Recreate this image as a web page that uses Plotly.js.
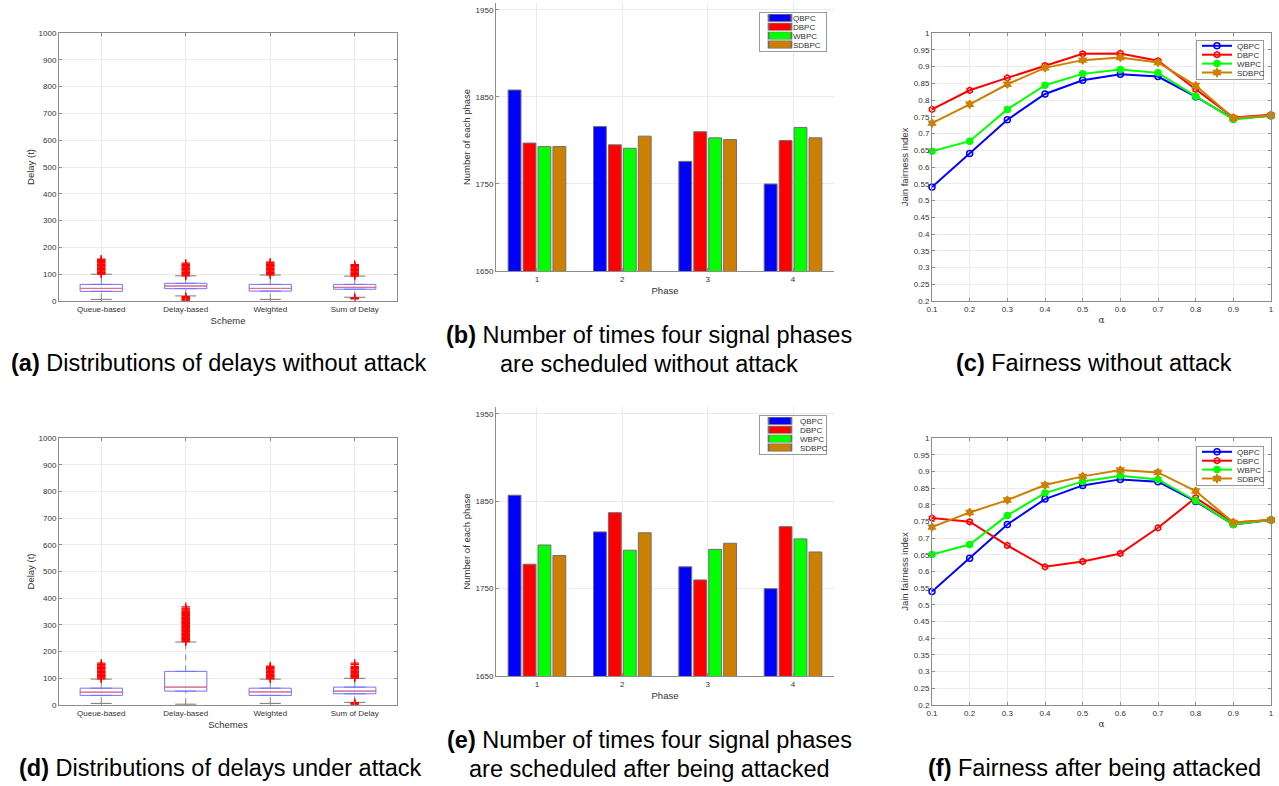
<!DOCTYPE html>
<html><head><meta charset="utf-8">
<script src="https://cdn.plot.ly/plotly-3.0.1.min.js"></script>
<style>html,body{margin:0;padding:0;background:#fff;} #chart{width:1279px;height:786px;}</style>
</head><body><div id="chart"></div>
<script>
const W = 1279, H = 786;
// ---------------- data ----------------
const schemes = ['Queue-based', 'Delay-based', 'Weighted', 'Sum of Delay'];
const schemePos = [1, 2, 3, 4];
// (a) delays without attack
const aQ1 = [36, 46, 37, 44];
const aMed = [47, 56, 47, 51];
const aQ3 = [62, 66, 62, 62];
const aLoWhisker = [6, 19, 6, 14];
const aHiWhisker = [100, 94, 97, 93];
const aOutHi = [
  [100, 103, 106, 109, 112, 115, 118, 121, 124, 127, 130, 133, 136, 139, 142, 145, 148, 151, 154, 156],
  [94, 97, 100, 103, 106, 109, 112, 115, 118, 121, 124, 127, 130, 133, 137, 141],
  [97, 100, 103, 106, 109, 112, 115, 118, 121, 124, 127, 130, 133, 136, 139, 142, 145],
  [93, 96, 99, 102, 105, 108, 111, 114, 117, 120, 123, 126, 129, 132, 136]
];
const aOutLo = [[], [1, 4, 7, 10, 13, 16], [], [8, 10, 12]];
// (d) delays under attack
const dQ1 = [36, 52, 36, 42];
const dMed = [48, 67, 49, 52];
const dQ3 = [63, 126, 63, 67];
const dLoWhisker = [6, 3, 6, 10];
const dHiWhisker = [97, 236, 97, 100];
const dOutHi = [
  [98, 101, 104, 107, 110, 113, 116, 119, 122, 125, 128, 131, 134, 137, 140, 143, 146, 149, 152, 157],
  [237, 240, 243, 246, 249, 252, 255, 258, 261, 264, 267, 270, 273, 276, 279, 282, 285, 288, 291, 294, 297, 300, 303, 306, 309, 312, 315, 318, 321, 324, 327, 330, 333, 336, 339, 342, 345, 348, 351, 355, 359, 363, 368],
  [98, 101, 104, 107, 110, 113, 116, 119, 122, 125, 128, 131, 134, 137, 140, 143, 146],
  [101, 104, 107, 110, 113, 116, 119, 122, 125, 128, 131, 134, 137, 140, 144, 151, 157]
];
const dOutLo = [[], [], [], [0, 3, 6, 9]];

// (b)/(e) number of times each phase is scheduled
const phases = [1, 2, 3, 4];
const seriesNames = ['QBPC', 'DBPC', 'WBPC', 'SDBPC'];
const seriesColors = ['#0000ff', '#ff0000', '#00ff00', '#cc7f00'];
const bQBPC = [1858, 1816, 1776, 1750];
const bDBPC = [1797, 1795, 1810, 1800];
const bWBPC = [1793, 1791, 1803, 1815];
const bSDBPC = [1793, 1805, 1801, 1803];
const eQBPC = [1857, 1815, 1775, 1750];
const eDBPC = [1778, 1837, 1760, 1821];
const eWBPC = [1800, 1794, 1795, 1807];
const eSDBPC = [1788, 1814, 1802, 1792];

// (c)/(f) Jain fairness index vs alpha
const alpha = [0.1, 0.2, 0.3, 0.4, 0.5, 0.6, 0.7, 0.8, 0.9, 1.0];
const cQBPC = [0.540, 0.640, 0.741, 0.818, 0.859, 0.877, 0.870, 0.810, 0.744, 0.753];
const cDBPC = [0.772, 0.829, 0.866, 0.903, 0.938, 0.939, 0.917, 0.832, 0.748, 0.756];
const cWBPC = [0.647, 0.677, 0.772, 0.844, 0.878, 0.891, 0.881, 0.811, 0.742, 0.753];
const cSDBPC = [0.731, 0.787, 0.847, 0.896, 0.919, 0.927, 0.912, 0.843, 0.746, 0.754];
const fQBPC = [0.540, 0.640, 0.741, 0.817, 0.858, 0.876, 0.869, 0.810, 0.741, 0.754];
const fDBPC = [0.760, 0.749, 0.678, 0.614, 0.630, 0.654, 0.731, 0.821, 0.747, 0.754];
const fWBPC = [0.651, 0.681, 0.768, 0.835, 0.870, 0.887, 0.876, 0.812, 0.741, 0.754];
const fSDBPC = [0.733, 0.777, 0.814, 0.859, 0.885, 0.904, 0.897, 0.841, 0.747, 0.754];

const delayTicks = [0, 100, 200, 300, 400, 500, 600, 700, 800, 900, 1000];
const phaseTicks = [1650, 1750, 1850, 1950];
const fairTickVals = [0.2, 0.25, 0.3, 0.35, 0.4, 0.45, 0.5, 0.55, 0.6, 0.65, 0.7, 0.75, 0.8, 0.85, 0.9, 0.95, 1];
const fairTickText = ['0.2', '0.25', '0.3', '0.35', '0.4', '0.45', '0.5', '0.55', '0.6', '0.65', '0.7', '0.75', '0.8', '0.85', '0.9', '0.95', '1'];
const alphaTickText = ['0.1', '0.2', '0.3', '0.4', '0.5', '0.6', '0.7', '0.8', '0.9', '1'];

const captions = [
  {lines: ['<b>(a)</b> Distributions of delays without attack'], cx: 219, cy: [363]},
  {lines: ['<b>(b)</b> Number of times four signal phases', 'are scheduled without attack'], cx: 649, cy: [335, 364]},
  {lines: ['<b>(c)</b> Fairness without attack'], cx: 1094, cy: [363]},
  {lines: ['<b>(d)</b> Distributions of delays under attack'], cx: 220, cy: [768]},
  {lines: ['<b>(e)</b> Number of times four signal phases', 'are scheduled after being attacked'], cx: 649, cy: [740, 769]},
  {lines: ['<b>(f)</b> Fairness after being attacked'], cx: 1094, cy: [768]}
];

// ---------------- helpers ----------------
const FONT = 'Liberation Sans, Arial, Helvetica, sans-serif';
const dx = (l, r) => [l / W, r / W];
const dy = (t, b) => [1 - b / H, 1 - t / H];

function axisBase(extra) {
  return Object.assign({
    showline: true, linecolor: '#8c8c8c', linewidth: 1,
    ticks: 'inside', ticklen: 3, tickcolor: '#8c8c8c',
    showgrid: true, gridcolor: '#ebebeb', zeroline: false,
    tickfont: {family: FONT, size: 8, color: '#333'},
    automargin: false, fixedrange: true
  }, extra);
}

const traces = [];

function boxPanel(xa, ya, q1, med, q3, lo, hi, outHi, outLo) {
  const half = 0.25, cap = 0.125;
  traces.push({
    type: 'box', xaxis: xa, yaxis: ya, x: schemePos, q1: q1, median: med, q3: q3,
    lowerfence: q1, upperfence: q3, width: 0.5, boxpoints: false,
    line: {color: '#7272ff', width: 1}, fillcolor: 'rgba(0,0,0,0)', showlegend: false, hoverinfo: 'skip'
  });
  const wx = [], wy = [], cxs = [], cys = [], mx = [], my = [];
  schemePos.forEach((p, i) => {
    wx.push(p, p, null, p, p, null); wy.push(q3[i], hi[i], null, lo[i], q1[i], null);
    cxs.push(p - cap, p + cap, null, p - cap, p + cap, null); cys.push(hi[i], hi[i], null, lo[i], lo[i], null);
    mx.push(p - half, p + half, null); my.push(med[i], med[i], null);
  });
  traces.push({type: 'scatter', mode: 'lines', xaxis: xa, yaxis: ya, x: wx, y: wy,
    line: {color: '#8a8a8a', width: 1, dash: '6px,5px'}, showlegend: false, hoverinfo: 'skip'});
  traces.push({type: 'scatter', mode: 'lines', xaxis: xa, yaxis: ya, x: cxs, y: cys,
    line: {color: '#777', width: 1}, showlegend: false, hoverinfo: 'skip'});
  traces.push({type: 'scatter', mode: 'lines', xaxis: xa, yaxis: ya, x: mx, y: my,
    line: {color: '#ff6a6a', width: 1}, showlegend: false, hoverinfo: 'skip'});
  const ox = [], oy = [];
  schemePos.forEach((p, i) => {
    outHi[i].forEach(v => { ox.push(p); oy.push(v); });
    outLo[i].forEach(v => { ox.push(p); oy.push(v); });
  });
  traces.push({type: 'scatter', mode: 'markers', xaxis: xa, yaxis: ya, x: ox, y: oy,
    marker: {symbol: 'cross-thin-open', size: 6, color: '#ff0000', line: {color: '#ff0000', width: 1.2}},
    showlegend: false, hoverinfo: 'skip'});
}

function barPanel(xa, ya, legendId, series) {
  series.forEach((vals, i) => {
    traces.push({type: 'bar', xaxis: xa, yaxis: ya, x: phases, y: vals, name: seriesNames[i],
      legend: legendId, offsetgroup: String(i),
      marker: {color: seriesColors[i], line: {color: '#707070', width: 1}}, hoverinfo: 'skip'});
  });
}

const lineSymbols = ['circle-open', 'hexagon-open', 'circle', 'hexagram'];
function linePanel(xa, ya, legendId, series) {
  series.forEach((vals, i) => {
    traces.push({type: 'scatter', mode: 'lines+markers', xaxis: xa, yaxis: ya, x: alpha, y: vals,
      name: seriesNames[i], legend: legendId, cliponaxis: false,
      line: {color: seriesColors[i], width: 2},
      marker: {symbol: lineSymbols[i], size: 6, color: seriesColors[i], line: {color: seriesColors[i], width: 1.5}},
      hoverinfo: 'skip'});
  });
}

boxPanel('x', 'y', aQ1, aMed, aQ3, aLoWhisker, aHiWhisker, aOutHi, aOutLo);
barPanel('x2', 'y2', 'legend', [bQBPC, bDBPC, bWBPC, bSDBPC]);
linePanel('x3', 'y3', 'legend2', [cQBPC, cDBPC, cWBPC, cSDBPC]);
boxPanel('x4', 'y4', dQ1, dMed, dQ3, dLoWhisker, dHiWhisker, dOutHi, dOutLo);
barPanel('x5', 'y5', 'legend3', [eQBPC, eDBPC, eWBPC, eSDBPC]);
linePanel('x6', 'y6', 'legend4', [fQBPC, fDBPC, fWBPC, fSDBPC]);

const titleFont = {family: FONT, size: 9.5, color: '#333'};
function boxAxes(xd, yd, xtitle) {
  return [
    axisBase({domain: xd, range: [0.5, 4.5], tickvals: schemePos, ticktext: schemes, mirror: 'ticks',
      title: {text: xtitle, font: titleFont, standoff: 4}}),
    axisBase({domain: yd, range: [0, 1000], tickvals: delayTicks, mirror: 'ticks',
      title: {text: 'Delay (t)', font: titleFont, standoff: 2}})
  ];
}
function barAxes(xd, yd) {
  return [
    axisBase({domain: xd, range: [0.52, 4.48], tickvals: phases, mirror: false,
      title: {text: 'Phase', font: titleFont, standoff: 4}}),
    axisBase({domain: yd, range: [1650, 1958], tickvals: phaseTicks, mirror: false,
      title: {text: 'Number of each phase', font: titleFont, standoff: 3}})
  ];
}
function lineAxes(xd, yd) {
  return [
    axisBase({domain: xd, range: [0.1, 1], tickvals: alpha, ticktext: alphaTickText, mirror: 'ticks',
      title: {text: 'α', font: {family: 'DejaVu Serif, serif', size: 9, color: '#333'}, standoff: 4}}),
    axisBase({domain: yd, range: [0.2, 1], tickvals: fairTickVals, ticktext: fairTickText, mirror: 'ticks',
      title: {text: 'Jain fairness index', font: titleFont, standoff: 3}})
  ];
}

const [xa1, ya1] = boxAxes(dx(59, 397), dy(33, 301), 'Scheme');
const [xa2, ya2] = barAxes(dx(496, 834), dy(3, 271));
const [xa3, ya3] = lineAxes(dx(932, 1271), dy(33, 301));
const [xa4, ya4] = boxAxes(dx(59, 397), dy(438, 705), 'Schemes');
const [xa5, ya5] = barAxes(dx(496, 834), dy(407, 676));
const [xa6, ya6] = lineAxes(dx(932, 1271), dy(438, 705));
ya1.anchor = 'x'; xa1.anchor = 'y';
ya2.anchor = 'x2'; xa2.anchor = 'y2';
ya3.anchor = 'x3'; xa3.anchor = 'y3';
ya4.anchor = 'x4'; xa4.anchor = 'y4';
ya5.anchor = 'x5'; xa5.anchor = 'y5';
ya6.anchor = 'x6'; xa6.anchor = 'y6';

function legendAt(rightPx, topPx) {
  return {x: rightPx / W, y: 1 - topPx / H, xanchor: 'right', yanchor: 'top',
    bgcolor: '#ffffff', bordercolor: '#9a9a9a', borderwidth: 1,
    font: {family: FONT, size: 8, color: '#333'}, tracegroupgap: 0, itemwidth: 30, traceorder: 'normal'};
}

const annotations = [];
captions.forEach(c => {
  c.lines.forEach((t, k) => {
    annotations.push({xref: 'paper', yref: 'paper', x: c.cx / W, y: 1 - c.cy[k] / H,
      xanchor: 'center', yanchor: 'middle', showarrow: false, text: t,
      font: {family: FONT, size: 23.5, color: '#000'}});
  });
});

const layout = {
  width: W, height: H, margin: {l: 0, r: 0, t: 0, b: 0},
  paper_bgcolor: '#fff', plot_bgcolor: '#fff',
  barmode: 'group', bargap: 0.3, bargroupgap: 0.14,
  xaxis: xa1, yaxis: ya1, xaxis2: xa2, yaxis2: ya2, xaxis3: xa3, yaxis3: ya3,
  xaxis4: xa4, yaxis4: ya4, xaxis5: xa5, yaxis5: ya5, xaxis6: xa6, yaxis6: ya6,
  legend: legendAt(827, 12), legend2: legendAt(1264, 40),
  legend3: legendAt(827, 415), legend4: legendAt(1264, 446),
  annotations: annotations,
  font: {family: FONT}
};

// Make the legends compact like MATLAB's (tight rows, wide bar swatches).
function compactLegends(gd) {
  const parseT = s => {
    const m = /translate\(\s*([-\d.e]+)[\s,]+([-\d.e]+)\s*\)/.exec(s || '');
    return m ? [parseFloat(m[1]), parseFloat(m[2])] : [0, 0];
  };
  gd.querySelectorAll('.infolayer > g').forEach(lg => {
    const cls = lg.getAttribute('class') || '';
    if (!/^legend/.test(cls)) return;
    const items = Array.from(lg.querySelectorAll('g.traces'));
    if (!items.length) return;
    const first = 5.8, step = 8.9, shiftX = 7;
    items.forEach((it, i) => {
      const p = parseT(it.getAttribute('transform'));
      it.setAttribute('transform', 'translate(' + p[0] + ',' + (first + i * step) + ')');
      const txt = it.querySelector('text.legendtext');
      if (txt) txt.setAttribute('x', parseFloat(txt.getAttribute('x') || 40) - shiftX);
    });
    const isBar = !lg.querySelector('.legendlines path');
    if (isBar) {
      lg.querySelectorAll('.legendpoints path').forEach(pth => {
        const t = pth.getAttribute('transform') || '';
        pth.setAttribute('transform', t + ' scale(1.9,0.6)');
      });
    }
    const bg = lg.querySelector('rect.bg');
    if (bg) {
      const w = parseFloat(bg.getAttribute('width'));
      bg.setAttribute('height', first + (items.length - 1) * step + 6.5);
      bg.setAttribute('width', w - shiftX);
      const p = parseT(lg.getAttribute('transform'));
      lg.setAttribute('transform', 'translate(' + (p[0] + shiftX) + ',' + p[1] + ')');
    }
  });
}

Plotly.newPlot('chart', traces, layout, {displayModeBar: false, staticPlot: true})
  .then(gd => compactLegends(gd));
</script>
</body></html>
